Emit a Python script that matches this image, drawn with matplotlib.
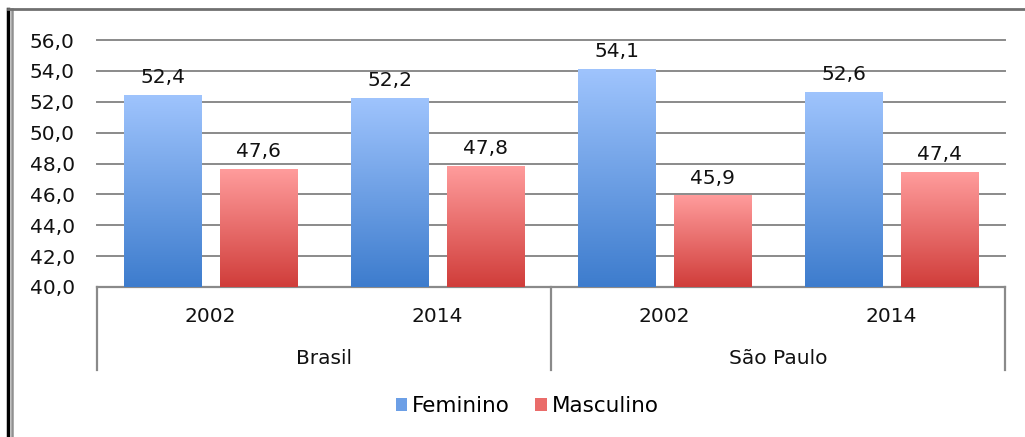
# -*- coding: utf-8 -*-

import numpy as np
import matplotlib
matplotlib.use("Agg")
import matplotlib.pyplot as plt
from matplotlib.colors import LinearSegmentedColormap
from matplotlib.patches import Patch
from matplotlib.lines import Line2D

# data
groups = ["Brasil", "São Paulo"]
years = ["2002", "2014", "2002", "2014"]
feminino = [52.4, 52.2, 54.1, 52.6]
masculino = [47.6, 47.8, 45.9, 47.4]
y_ticks = [40, 42, 44, 46, 48, 50, 52, 54, 56]

def fmt(v):
    return f"{v:.1f}".replace(".", ",")

W, H = 1025, 437
FS = 14.5
fig = plt.figure(figsize=(W / 100, H / 100), dpi=100)
ax = fig.add_axes([97 / W, 1 - 287 / H, (1005 - 97) / W, (287 - 40) / H])

blue = LinearSegmentedColormap.from_list("b", ["#3d7ccd", "#9fc4fd"])
red = LinearSegmentedColormap.from_list("r", ["#d03d3a", "#ff9c9c"])
grad = np.linspace(0, 1, 256).reshape(-1, 1)[::-1]

bw = 0.34
off = 0.21
x = np.arange(len(years))
ymin = y_ticks[0]

def grad_bar(xc, val, cmap):
    ax.imshow(grad, extent=[xc - bw / 2, xc + bw / 2, ymin, val],
              aspect="auto", cmap=cmap, zorder=3, interpolation="bicubic")
    ax.text(xc, val + 0.8, fmt(val), ha="center", va="baseline",
            fontsize=FS, color="#111111", zorder=4)

for i in x:
    grad_bar(i - off, feminino[i], blue)
    grad_bar(i + off, masculino[i], red)

ax.set_xlim(-0.5, len(years) - 0.5)
ax.set_ylim(ymin, y_ticks[-1])
ax.set_yticks(y_ticks)
ax.set_yticklabels([fmt(t) for t in y_ticks], fontsize=FS, color="#111111")
ax.tick_params(axis="y", length=0, pad=16)
ax.set_xticks([])
for t in y_ticks[1:]:
    ax.axhline(t, color="#8a8a8a", linewidth=1.4, zorder=0, clip_on=False)
for s in ["left", "right", "top"]:
    ax.spines[s].set_visible(False)
ax.spines["bottom"].set_color("#8a8a8a")
ax.spines["bottom"].set_linewidth(1.6)

# multi-level category axis
trans = ax.get_xaxis_transform()
for sx in [-0.5, 1.5, 3.5]:
    ax.plot([sx, sx], [0, -83 / 247], color="#8a8a8a", linewidth=1.6,
            transform=trans, clip_on=False)
for i, y in enumerate(years):
    ax.text(i, -30 / 247, y, ha="center", va="center", fontsize=FS,
            color="#111111", transform=trans)
for g, gname in enumerate(groups):
    ax.text(2 * g + 0.5, -71 / 247, gname, ha="center", va="center",
            fontsize=FS, color="#111111", transform=trans)

handles = [Patch(facecolor="#6c9fe6", label="Feminino"),
           Patch(facecolor="#ea6c6a", label="Masculino")]
fig.legend(handles=handles, loc="center", bbox_to_anchor=(527 / W, 1 - 406 / H),
           ncol=2, frameon=False, fontsize=15.5, handlelength=0.55,
           handleheight=0.55, handletextpad=0.2, columnspacing=1.2)

# frame lines of the original picture
fig.add_artist(Line2D([8 / W, 8 / W], [0, 1 - 9 / H], color="black",
                      linewidth=2.5, transform=fig.transFigure))
fig.add_artist(Line2D([12 / W, 12 / W], [0, 1 - 9 / H], color="#909090",
                      linewidth=1.8, transform=fig.transFigure))
fig.add_artist(Line2D([8 / W, 1], [1 - 9 / H, 1 - 9 / H], color="#707070",
                      linewidth=2, transform=fig.transFigure))

fig.savefig("out.png", dpi=100)
